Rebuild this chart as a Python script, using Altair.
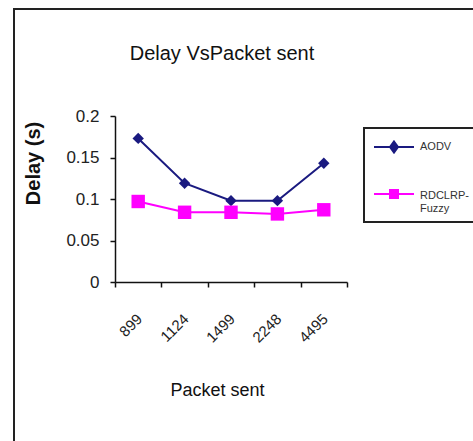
import altair as alt
import pandas as pd

packets = ["899", "1124", "1499", "2248", "4495"]
series_names = ["AODV", "RDCLRP-Fuzzy"]
aodv = [0.173, 0.119, 0.098, 0.098, 0.143]
rdclrp = [0.097, 0.084, 0.084, 0.082, 0.087]
y_ticks = [0, 0.05, 0.1, 0.15, 0.2]
colors = ["#1a1a80", "#ff00ff"]

rows = []
for p, a, r in zip(packets, aodv, rdclrp):
    rows.append({"packets": p, "series": series_names[0], "delay": a})
    rows.append({"packets": p, "series": series_names[1], "delay": r})
df = pd.DataFrame(rows)

NARROW = "Liberation Sans Narrow, Arial Narrow, Liberation Sans, Arial"
REG = "Liberation Sans, Arial"

x_enc = alt.X(
    "packets:N",
    sort=packets,
    scale=alt.Scale(paddingInner=0, paddingOuter=0),
    axis=alt.Axis(
        title="Packet sent",
        tickBand="extent",
        labelAngle=-45,
        labelFont=REG,
        labelFontSize=15,
        labelPadding=24,
        labelOffset=-4,
        titleFont=NARROW,
        titleFontSize=18,
        titleFontWeight="normal",
        titleX=102,
        titleY=108,
        titleBaseline="middle",
        titleAlign="center",
    ),
)
y_enc = alt.Y(
    "delay:Q",
    scale=alt.Scale(domain=[0, 0.2]),
    axis=alt.Axis(
        title="Delay (s)",
        values=y_ticks,
        format="~g",
        grid=False,
        labelFont=NARROW,
        labelFontSize=17,
        labelPadding=11,
        titleFont=REG,
        titleFontSize=20,
        titleFontWeight="bold",
        titleX=-82,
        titleY=47,
        titleAngle=-90,
        titleBaseline="middle",
        titleAlign="center",
    ),
)

base = alt.Chart(df)

layers = []
shapes_mark = ["diamond", "square"]
sizes_mark = [130, 180]
for name, col, shp, sz in zip(series_names, colors, shapes_mark, sizes_mark):
    sub = base.transform_filter(alt.datum.series == name)
    layers.append(sub.mark_line(color=col, strokeWidth=2).encode(x=x_enc, y=y_enc))
    layers.append(
        sub.mark_point(shape=shp, filled=True, size=sz, color=col, opacity=1).encode(x=x_enc, y=y_enc)
    )

legend_paths = [
    "M-2,0L2,0M0,-0.55L0.4,0L0,0.55L-0.4,0Z",
    "M-2,-0.2L2,-0.2M-0.4,-0.6L0.4,-0.6L0.4,0.2L-0.4,0.2Z",
]
leg = alt.Legend(
    title=None,
    orient="none",
    legendX=249,
    legendY=12,
    strokeColor="#222222",
    padding=8,
    symbolSize=400,
    symbolOffset=11,
    labelOffset=15,
    symbolStrokeWidth=2,
    rowPadding=28,
    labelFont=NARROW,
    labelFontSize=11,
    labelColor="#333333",
    labelBaseline="middle",
    labelExpr="datum.label == 'RDCLRP-Fuzzy' ? ['RDCLRP-', 'Fuzzy'] : datum.label",
)
legend_layer = base.transform_filter("false").mark_point(strokeWidth=2, opacity=1).encode(
    x=x_enc,
    y=y_enc,
    fill=alt.Fill("series:N", scale=alt.Scale(domain=series_names, range=colors), legend=leg),
    stroke=alt.Stroke("series:N", scale=alt.Scale(domain=series_names, range=colors), legend=leg),
    shape=alt.Shape("series:N", scale=alt.Scale(domain=series_names, range=legend_paths), legend=leg),
)

border = alt.Chart(pd.DataFrame({"a": [0]})).mark_rect(
    fill="transparent", stroke="#222222", strokeWidth=2
).encode(
    x=alt.value(-101), x2=alt.value(420), y=alt.value(-107), y2=alt.value(400)
)

chart = alt.layer(border, *layers, legend_layer).properties(
    width=232,
    height=166,
    padding={"left": 115, "top": 116, "right": 126, "bottom": 159},
    autosize=alt.AutoSizeParams(type="none"),
    background="white",
    title=alt.Title(
        "Delay VsPacket sent",
        anchor="middle",
        dx=-9,
        offset=-72,
        baseline="alphabetic",
        font=NARROW,
        fontSize=20,
        fontWeight="normal",
        color="#111111",
    ),
).configure_view(stroke=None).configure_axis(
    domainColor="#111111",
    domainWidth=1.5,
    tickColor="#111111",
    tickWidth=1.5,
    tickSize=5,
    labelColor="#222222",
    titleColor="#111111",
).configure_legend(strokeWidth=2)

chart.save("out.html", embed_options={"renderer": "svg", "actions": False})
